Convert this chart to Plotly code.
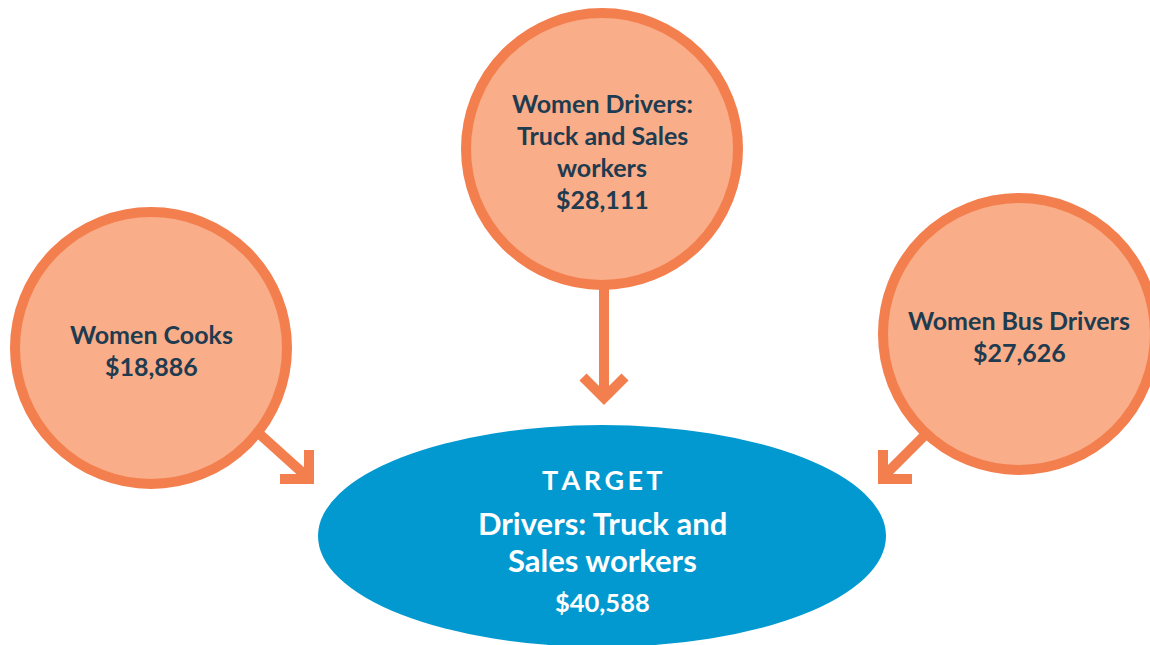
import plotly.graph_objects as go

# ---- data ----
source_titles = [["Women Cooks"], ["Women Drivers:", "Truck and Sales", "workers"], ["Women Bus Drivers"]]
source_values = [18886, 28111, 27626]
target_title = ["Drivers: Truck and", "Sales workers"]
target_value = 40588
target_tag = "TARGET"

# ---- layout / style ----
W, H = 1150, 645
src_centers = [(151, 348), (602, 149), (1019, 334)]
R = 136
ell = dict(cx=602, cy=536, rx=284, ry=111)
ORANGE = "#F37F4F"
PEACH = "#F9AD88"
BLUE = "#0299D0"
NAVY = "#1E3B50"
FONT = "Lato"

fig = go.Figure()
# invisible trace to establish axes
fig.add_trace(go.Scatter(x=[0, W], y=[0, H], mode="markers", marker=dict(opacity=0), hoverinfo="skip", showlegend=False))

shapes = []
annotations = []

# target ellipse
shapes.append(dict(type="circle", xref="x", yref="y",
                   x0=ell["cx"] - ell["rx"], x1=ell["cx"] + ell["rx"],
                   y0=ell["cy"] - ell["ry"], y1=ell["cy"] + ell["ry"],
                   fillcolor=BLUE, line=dict(width=0), layer="below"))

# source circles + text
for (cx, cy), title, val in zip(src_centers, source_titles, source_values):
    shapes.append(dict(type="circle", xref="x", yref="y",
                       x0=cx - R, x1=cx + R, y0=cy - R, y1=cy + R,
                       fillcolor=PEACH, line=dict(color=ORANGE, width=10), layer="below"))
    lines = title + [f"${val:,}"]
    n = len(lines)
    for i, t in enumerate(lines):
        y = cy + 1.5 + (i - (n - 1) / 2) * 32
        annotations.append(dict(x=cx, y=y, xref="x", yref="y", text=f"<b>{t}</b>",
                                showarrow=False, xanchor="center", yanchor="middle",
                                font=dict(family=FONT, size=25, color=NAVY)))

# arrows (shaft + chevron head)
arrow_paths = [
    "M 604 285 L 604 396 M 583 377 L 604 398 L 625 377",
    "M 255 430 L 305 475 M 280 479 L 309 479 L 309 450",
    "M 928 432 L 886 474 M 883 450 L 883 479 L 912 479",
]
for p in arrow_paths:
    shapes.append(dict(type="path", xref="x", yref="y", path=p,
                       line=dict(color=ORANGE, width=10), layer="below"))

# target text
tag = "\u2009".join(target_tag)
annotations.append(dict(x=ell["cx"], y=479, xref="x", yref="y", text=f"<b>{tag}</b>",
                        showarrow=False, font=dict(family=FONT, size=27, color="white")))
for y, t in zip([523, 560], target_title):
    annotations.append(dict(x=ell["cx"], y=y, xref="x", yref="y", text=f"<b>{t}</b>",
                            showarrow=False, font=dict(family=FONT, size=31, color="white")))
annotations.append(dict(x=ell["cx"], y=602, xref="x", yref="y", text=f"<b>${target_value:,}</b>",
                        showarrow=False, font=dict(family=FONT, size=25.5, color="white")))

fig.update_layout(
    width=W, height=H, margin=dict(l=0, r=0, t=0, b=0),
    paper_bgcolor="white", plot_bgcolor="white",
    xaxis=dict(range=[0, W], visible=False, fixedrange=True),
    yaxis=dict(range=[H, 0], visible=False, fixedrange=True),
    shapes=shapes, annotations=annotations, showlegend=False,
)
fig.write_html("out.html", config={"displayModeBar": False},
               post_script="document.body.style.margin='0';document.body.style.overflow='hidden';")
